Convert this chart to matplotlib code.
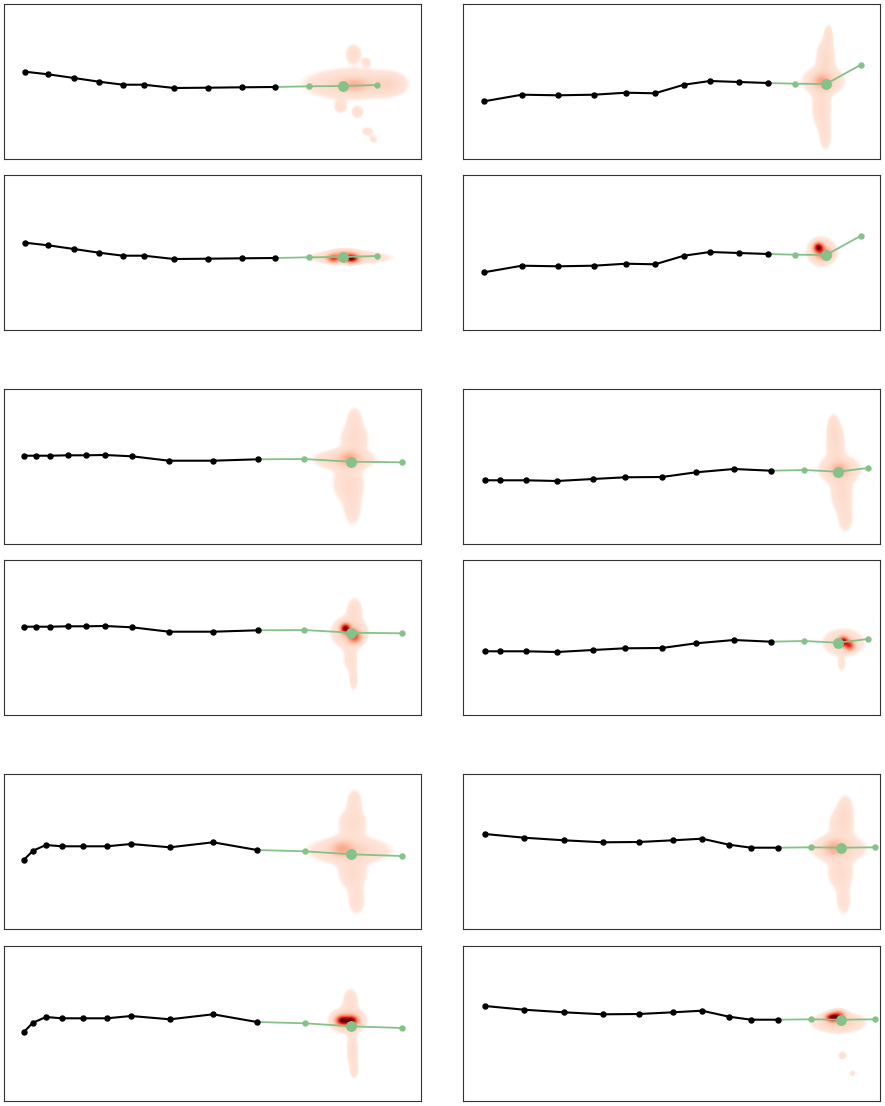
import numpy as np
import matplotlib.pyplot as plt

# ---- tracks (panel units, x right / y up) ----
# observed history (black) and ground-truth future (green), 6 scenes
s1_obs_x = [21, 44, 70, 95, 119, 140, 170, 204, 238, 271]
s1_obs_y = [87.3, 84.7, 81, 77.3, 74.3, 74.3, 71, 71.3, 71.7, 72]
s1_fut_x = [305, 339, 373]
s1_fut_y = [72.7, 73, 74]

s2_obs_x = [21, 59, 95, 131, 163, 192, 221, 247, 276, 305]
s2_obs_y = [57.7, 64.3, 63.7, 64.3, 66.3, 65.7, 74.3, 78, 77, 76]
s2_fut_x = [332, 363, 398]
s2_fut_y = [75.3, 75, 94.3]

s3_obs_x = [20, 32, 46, 64, 82, 101, 128, 165, 209, 254]
s3_obs_y = [88.3, 88.3, 88.3, 88.7, 88.7, 89, 87.7, 83.3, 83.3, 84.7]
s3_fut_x = [300, 347, 398]
s3_fut_y = [85, 82.3, 81.7]

s4_obs_x = [22, 37, 63, 94, 130, 162, 199, 233, 271, 308]
s4_obs_y = [63.7, 63.7, 63.7, 63, 65, 66.7, 67, 71.7, 75, 73.3]
s4_fut_x = [341, 375, 405]
s4_fut_y = [74, 72.3, 76]

s5_obs_x = [20, 29, 42, 58, 79, 103, 127, 166, 209, 253]
s5_obs_y = [69.3, 78.3, 84, 82.7, 82.7, 82.7, 85, 81.7, 86.7, 79]
s5_fut_x = [301, 347, 398]
s5_fut_y = [77.7, 74.7, 73]

s6_obs_x = [22, 61, 101, 140, 176, 210, 239, 266, 288, 315]
s6_obs_y = [95, 91.3, 88.7, 86.7, 87, 88.7, 90.3, 84.3, 81.3, 81.3]
s6_fut_x = [348, 378, 412]
s6_fut_y = [81.7, 81.3, 81.7]

# ---- predicted density, as weighted blobs (cx, cy, sx, sy, weight) ----
# top panel of each pair = wide model, bottom panel = sharp model
s1_wide = [(347, 74, 28, 9, 0.1), (350, 73, 8, 4, 0.14), (349, 104, 5, 6, 0.07),
           (362, 96, 3, 3, 0.05), (336, 51, 4, 4, 0.06), (353, 46, 4, 4, 0.06),
           (363, 27, 4, 3, 0.05), (369, 19, 3, 3, 0.04), (385, 74, 10, 7, 0.06)]
s1_sharp = [(345, 72, 24, 4, 0.1), (347, 71, 4, 2.5, 0.9), (329, 71, 4, 2.5, 0.5),
            (340, 75, 8, 3, 0.2)]
s2_wide = [(360, 77, 12, 8, 0.11), (358, 77, 5, 4, 0.15), (362, 100, 6, 12, 0.07),
           (365, 122, 3, 8, 0.05), (358, 50, 6, 14, 0.07), (362, 22, 4, 10, 0.05)]
s2_sharp = [(355, 82, 3, 3, 0.9), (360, 76, 5, 4, 0.35), (358, 78, 9, 9, 0.09)]
s3_wide = [(340, 84, 18, 6, 0.1), (345, 85, 6, 5, 0.16), (350, 105, 9, 10, 0.07),
           (350, 125, 5, 8, 0.05), (344, 60, 10, 12, 0.07), (348, 35, 6, 12, 0.05)]
s3_sharp = [(341, 86, 3, 3, 0.95), (350, 78, 4, 4, 0.5), (345, 82, 10, 9, 0.13),
            (350, 105, 5, 8, 0.06), (346, 55, 5, 8, 0.05), (349, 35, 3, 8, 0.05)]
s4_wide = [(376, 74, 12, 8, 0.11), (376, 74, 5, 4, 0.12), (372, 100, 6, 12, 0.07),
           (370, 118, 4, 8, 0.05), (378, 50, 7, 12, 0.07), (382, 25, 5, 10, 0.05)]
s4_sharp = [(380, 73, 3, 3, 0.8), (386, 69, 3, 3, 0.55), (380, 72, 12, 8, 0.1),
            (378, 50, 3, 5, 0.04)]
s5_wide = [(345, 78, 24, 8, 0.1), (338, 80, 7, 5, 0.16), (348, 105, 9, 10, 0.07),
           (350, 128, 5, 8, 0.05), (348, 55, 9, 10, 0.07), (352, 28, 6, 10, 0.05)]
s5_sharp = [(338, 80, 4, 3, 0.9), (347, 80, 4, 3, 0.85), (343, 80, 10, 7, 0.15),
            (346, 100, 5, 8, 0.06), (348, 50, 4, 12, 0.06), (350, 30, 3, 6, 0.04)]
s6_wide = [(375, 80, 16, 8, 0.1), (370, 81, 6, 5, 0.15), (378, 105, 8, 10, 0.07),
           (382, 122, 5, 8, 0.05), (377, 55, 8, 10, 0.07), (380, 28, 5, 10, 0.05)]
s6_sharp = [(369, 83, 4, 2.5, 0.95), (375, 85, 4, 3, 0.5), (375, 78, 15, 6, 0.12),
            (379, 45, 3, 3, 0.05), (389, 27, 2.5, 2.5, 0.04)]

XMAX, YMAX = 417, 155
FUT_GREEN = '#86c18a'
reds = plt.get_cmap('Reds')


def density_rgba(blobs):
    xs = np.arange(0, XMAX, 1.0)
    ys = np.arange(0, YMAX, 1.0)
    gx, gy = np.meshgrid(xs, ys)
    z = np.zeros_like(gx)
    for cx, cy, sx, sy, w in blobs:
        z += w * np.exp(-0.5 * (((gx - cx) / sx) ** 2 + ((gy - cy) / sy) ** 2))
    rgba = reds(np.clip((z + 0.08) / 1.08, 0, 1))
    rgba[..., 3] = np.clip((z - 0.015) / 0.015, 0, 1)
    return rgba


def draw_panel(ax, ox, oy, fx, fy, blobs):
    ax.imshow(density_rgba(blobs), extent=(0, XMAX, 0, YMAX), origin='lower',
              interpolation='bilinear', aspect='auto', zorder=1)
    # future path starts at last observed point
    ax.plot([ox[-1]] + fx, [oy[-1]] + fy, color=FUT_GREEN, lw=1.3, zorder=2)
    ax.plot(fx, fy, 'o', color=FUT_GREEN, ms=3.6, zorder=3)
    ax.plot(fx[1], fy[1], 'o', color=FUT_GREEN, ms=6.8, zorder=3)
    ax.plot(ox, oy, '-o', color='black', lw=1.5, ms=3.6, zorder=4)
    ax.set_xlim(0, XMAX)
    ax.set_ylim(0, YMAX)
    ax.set_xticks([])
    ax.set_yticks([])
    for sp in ax.spines.values():
        sp.set_color('#333333')
        sp.set_linewidth(0.8)


W, H = 885, 1106
fig = plt.figure(figsize=(W / 100, H / 100), dpi=100)

scenes = [
    (s1_obs_x, s1_obs_y, s1_fut_x, s1_fut_y, s1_wide, s1_sharp),
    (s2_obs_x, s2_obs_y, s2_fut_x, s2_fut_y, s2_wide, s2_sharp),
    (s3_obs_x, s3_obs_y, s3_fut_x, s3_fut_y, s3_wide, s3_sharp),
    (s4_obs_x, s4_obs_y, s4_fut_x, s4_fut_y, s4_wide, s4_sharp),
    (s5_obs_x, s5_obs_y, s5_fut_x, s5_fut_y, s5_wide, s5_sharp),
    (s6_obs_x, s6_obs_y, s6_fut_x, s6_fut_y, s6_wide, s6_sharp),
]
col_left = [4, 463]
pair_tops = [(4, 175), (389, 560), (774, 946)]

for i, (ox, oy, fx, fy, wide, sharp) in enumerate(scenes):
    left = col_left[i % 2]
    for top, blobs in zip(pair_tops[i // 2], (wide, sharp)):
        ax = fig.add_axes([left / W, 1 - (top + YMAX) / H, XMAX / W, YMAX / H])
        draw_panel(ax, ox, oy, fx, fy, blobs)

fig.savefig('out.png', dpi=100)
